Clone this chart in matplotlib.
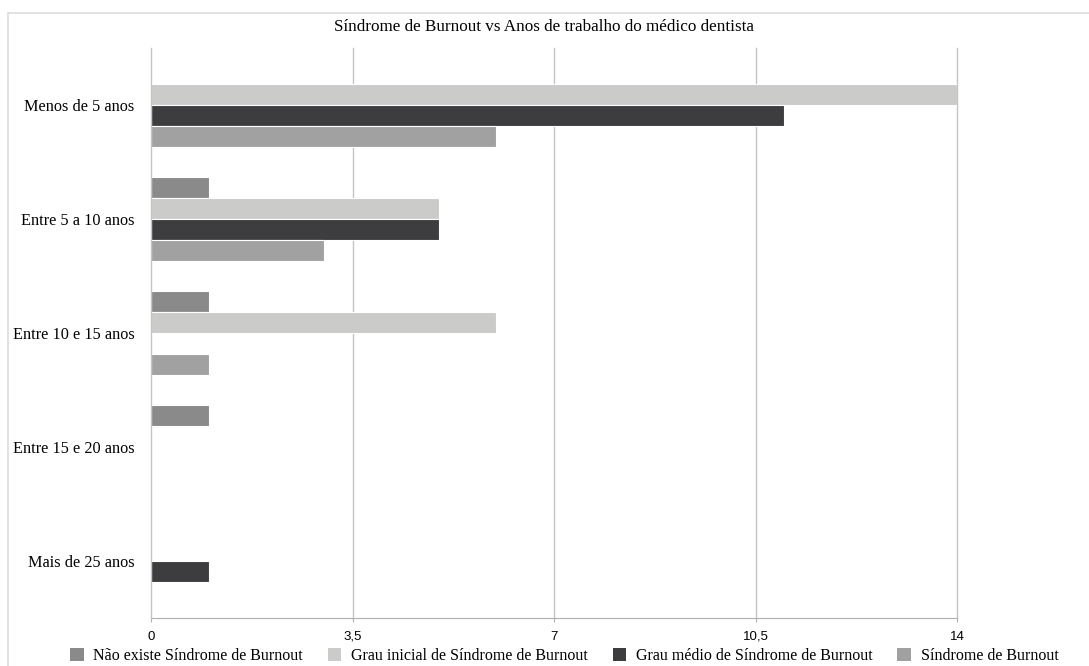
import numpy as np
import matplotlib.pyplot as plt
from matplotlib.patches import Rectangle, Patch
from matplotlib.ticker import FuncFormatter

categorias = ["Menos de 5 anos", "Entre 5 a 10 anos", "Entre 10 e 15 anos",
              "Entre 15 e 20 anos", "Mais de 25 anos"]
series = ["Não existe Síndrome de Burnout", "Grau inicial de Síndrome de Burnout",
          "Grau médio de Síndrome de Burnout", "Síndrome de Burnout"]
nao_existe = [0, 1, 1, 1, 0]
grau_inicial = [14, 5, 6, 0, 0]
grau_medio = [11, 5, 0, 0, 1]
sindrome = [6, 3, 1, 0, 0]
cores = ["#8a8a8a", "#cbcbc9", "#3d3d3f", "#a1a1a1"]
xticks = [0, 3.5, 7, 10.5, 14]

serif = ["Liberation Serif", "DejaVu Serif"]
sans = ["Liberation Sans Narrow", "Liberation Sans", "DejaVu Sans"]

fig = plt.figure(figsize=(10.89, 6.66), dpi=100)
ax = fig.add_axes([151 / 1089, 1 - 618 / 666, (957 - 151) / 1089, (618 - 48) / 666])

# moldura cinza em volta do gráfico
fig.patches.append(Rectangle((8 / 1089, -0.1), 1.2, 1 - 13 / 666 + 0.1,
                             transform=fig.transFigure, fill=False,
                             edgecolor="#dddddd", linewidth=1.2))

y = np.arange(len(categorias))
h = 0.185
valores = [nao_existe, grau_inicial, grau_medio, sindrome]
for i, (vals, cor) in enumerate(zip(valores, cores)):
    ax.barh(y + (i - 1.5) * h, vals, height=h, color=cor,
            edgecolor="white", linewidth=0.8, zorder=3)

ax.set_xlim(0, 14)
ax.set_ylim(len(categorias) - 0.5, -0.5)
ax.set_xticks(xticks)
ax.xaxis.set_major_formatter(FuncFormatter(lambda v, p: f"{v:g}".replace(".", ",")))
ax.set_yticks(y)
ax.set_yticklabels(categorias, fontfamily=serif, fontsize=11.7)
ax.tick_params(axis="y", length=0, pad=12)
ax.tick_params(axis="x", length=3, color="#b0b0b0", labelsize=9.5, pad=6)
for lab in ax.get_xticklabels():
    lab.set_fontfamily(sans)

# linhas de grade verticais, incluindo a do zero por cima das barras
for xv in xticks:
    ax.axvline(xv, color="#c4c4c4", linewidth=1, zorder=4 if xv == 0 else 0, clip_on=False)
for nome, s in ax.spines.items():
    s.set_visible(nome == "bottom")
ax.spines["bottom"].set_color("#b0b0b0")

fig.text(0.5, 1 - 27 / 666, "Síndrome de Burnout vs Anos de trabalho do médico dentista",
         ha="center", va="center", fontfamily=serif, fontsize=12.3)

handles = [Patch(facecolor=c, edgecolor="none") for c in cores]
fig.legend(handles, series, loc="center left", bbox_to_anchor=(70 / 1089, 1 - 656 / 666),
           ncol=4, frameon=False, prop={"family": serif, "size": 11.5},
           handlelength=0.86, handleheight=0.86, handletextpad=0.6, columnspacing=1.55,
           borderaxespad=0, borderpad=0)

fig.savefig("out.png", dpi=100)
